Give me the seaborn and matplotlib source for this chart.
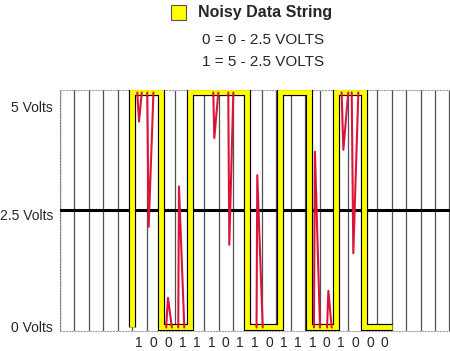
import matplotlib
matplotlib.use('Agg')
import matplotlib.pyplot as plt
import matplotlib.patheffects as pe
from matplotlib.patches import Rectangle
import seaborn as sns
import pandas as pd
import numpy as np

# ---- data ----
# ideal square wave (x in bit-cell units, volts)
wave_x = [5, 5, 7, 7, 9, 9, 13, 13, 15.25, 15.25, 17.25, 17.25, 19.15, 19.15, 21.1, 21.1, 23]
wave_volts = [0, 5, 5, 0, 0, 5, 5, 0, 0, 5, 5, 0, 0, 5, 5, 0, 0]

# noise spikes (each spike is one short polyline)
noise_id = [1, 1, 1, 2, 2, 2, 3, 3, 3, 4, 4, 4, 5, 5, 5, 6, 6, 6,
            7, 7, 7, 8, 8, 8, 9, 9, 9, 10, 10, 10, 11, 11, 11]
noise_x = [5.36, 5.48, 5.67, 6.05, 6.15, 6.48, 7.36, 7.49, 7.76, 8.20, 8.25, 8.62,
           10.63, 10.70, 10.98, 11.67, 11.74, 12.02, 13.63, 13.68, 14.06,
           17.61, 17.68, 18.03, 18.52, 18.61, 18.84, 19.53, 19.65, 19.99,
           20.23, 20.34, 20.69]
noise_volts = [5, 4.38, 5, 5, 2.14, 5, 0, 0.63, 0, 0, 3.0, 0,
               5, 4.03, 5, 5, 1.76, 5, 0, 3.24, 0,
               0, 3.74, 0, 0, 0.78, 0, 5, 3.78, 5,
               5, 1.58, 5]

threshold_volts = 2.5
bit_labels = ['1', '0', '0', '1', '1', '1', '0', '1', '1', '0',
              '1', '1', '1', '0', '1', '0', '0', '0']
volt_labels = ['0 Volts', '2.5 Volts', '5 Volts']

title_text = 'Noisy Data String'
note_lines = ['0 = 0 - 2.5 VOLTS', '1 = 5 - 2.5 VOLTS']

# ---- styling ----
sns.set_theme(style='white')
plt.rcParams['font.family'] = ['Liberation Sans', 'DejaVu Sans']

W, H = 450, 351
fig = plt.figure(figsize=(W / 100, H / 100), dpi=100)
ax = fig.add_axes([60 / W, 20 / H, 390 / W, 241 / H])

# vertical grid at each bit-cell boundary
ax.set_xticks(np.arange(0, 28), minor=True)
ax.grid(which='minor', axis='x', color='#505050', lw=0.9, zorder=0)
ax.grid(which='major', visible=False)
ax.set_axisbelow(True)

# threshold line
ax.axhline(threshold_volts, color='black', lw=2.2, zorder=3)

# square wave: yellow with black outline
sns.lineplot(x=wave_x, y=wave_volts, sort=False, estimator=None, ax=ax,
             color='#FFFF00', lw=3.5, zorder=4,
             solid_joinstyle='miter', solid_capstyle='butt',
             path_effects=[pe.Stroke(linewidth=5.2, foreground='black',
                                     joinstyle='miter', capstyle='butt'),
                           pe.Normal()])

# noise spikes
noise_df = pd.DataFrame({'x': noise_x, 'v': noise_volts, 'spike': noise_id})
sns.lineplot(data=noise_df, x='x', y='v', units='spike', estimator=None,
             sort=False, ax=ax, color='#DC143C', lw=1.5, zorder=5, legend=False)

ax.set_xlim(0, 390 / 14.42)
ax.set_ylim(-0.0745, 5.053)

ax.set_xticks(np.arange(5, 5 + len(bit_labels)) + 0.5)
ax.set_xticklabels(bit_labels, fontsize=10)
ax.set_yticks([0.03, 2.41, 4.71])
ax.set_yticklabels(volt_labels, fontsize=10)
ax.tick_params(axis='both', which='both', length=0)
ax.tick_params(axis='x', pad=3.5)
ax.tick_params(axis='y', pad=5)
ax.set_xlabel('')
ax.set_ylabel('')

for s in ax.spines.values():
    s.set_color('#a0a0a0')
    s.set_linewidth(0.8)
    s.set_linestyle(':')

# legend-like header
fig.add_artist(Rectangle((171 / W, 1 - 20 / H), 15 / W, 15 / H,
                         transform=fig.transFigure, facecolor='#FFFF00',
                         edgecolor='#555555', lw=0.8))
fig.text(198 / W, 1 - 13 / H, title_text, fontsize=11.5, weight='bold',
         ha='left', va='center')
fig.text(202 / W, 1 - 40 / H, note_lines[0], fontsize=11, ha='left', va='center')
fig.text(202 / W, 1 - 62 / H, note_lines[1], fontsize=11, ha='left', va='center')

fig.savefig('out.png', dpi=100)
